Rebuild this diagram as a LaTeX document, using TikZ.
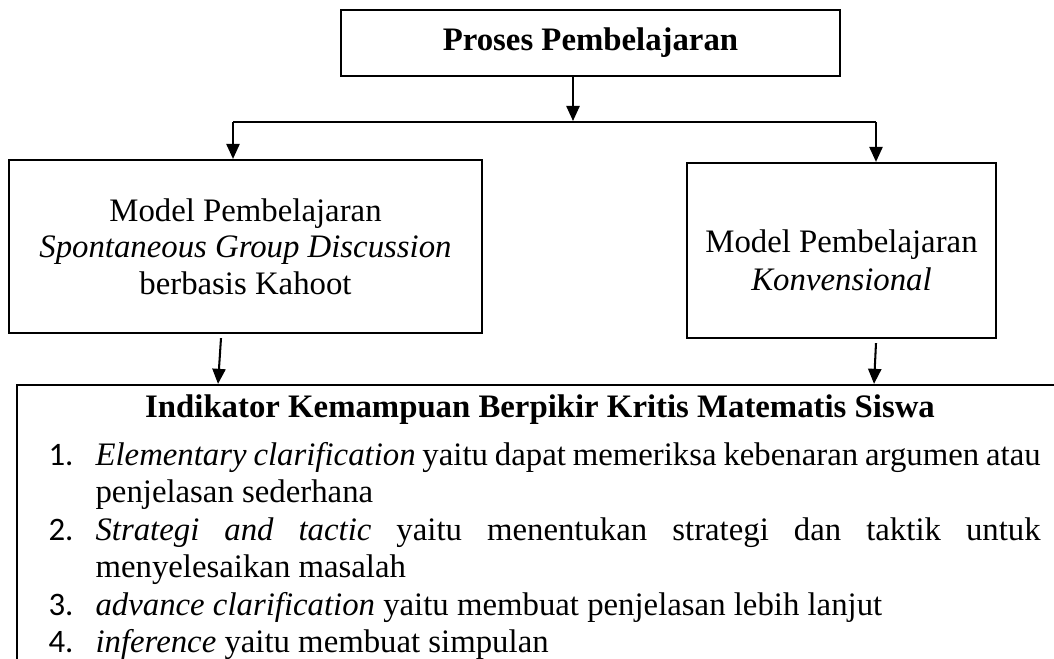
\documentclass[tikz,border=0pt]{standalone}
\usepackage{fontspec}
\setmainfont{Liberation Serif}
\newfontfamily\numfont{Carlito}
\usepackage{tikz}
\usetikzlibrary{shapes, arrows.meta, calc}
\tikzstyle{pbox} = [rectangle, draw, line width=0.8pt, minimum width=182.6pt, minimum height=24.2pt, inner sep=0pt, text centered, font=\fontsize{12pt}{13.7pt}\selectfont\bfseries]
\tikzstyle{mbox} = [rectangle, draw, line width=0.8pt, inner sep=0pt, align=center, font=\fontsize{12pt}{13.4pt}\selectfont]
\tikzstyle{mtext} = [inner sep=0pt, align=center, font=\fontsize{12pt}{13.9pt}\selectfont]
\tikzstyle{ibox} = [rectangle, draw, line width=0.8pt, minimum width=387.2pt, minimum height=108pt]
\tikzstyle{ititle} = [inner sep=0pt, font=\fontsize{12pt}{13.7pt}\selectfont\bfseries]
\tikzstyle{num} = [anchor=base west, inner sep=0pt, font=\fontsize{12pt}{13.7pt}\selectfont\numfont]
\tikzstyle{itemtext} = [anchor=base west, inner sep=0pt, text width=345.9pt, align=justify, font=\fontsize{12pt}{13.7pt}\selectfont]
\tikzstyle{line} = [draw, line width=0.75pt, -{Triangle[width=4.8pt, length=5.5pt]}]
\tikzstyle{branch} = [draw, line width=0.45pt]

\begin{document}
\begin{tikzpicture}[x=0.366pt, y=-0.366pt]
    \useasboundingbox (0,0) rectangle (1054,658);

    \node[pbox](top) at (590.5,43){Proses Pembelajaran};
    \node[mbox, minimum width=173.1pt, minimum height=63.3pt](sgd) at (245.5,246.5){Model Pembelajaran\\\textit{Spontaneous Group Discussion}\\berbasis Kahoot};
    \node[mbox, minimum width=113.1pt, minimum height=64.05pt, label={[mtext, yshift=-3.7pt]center:{Model Pembelajaran\\\textit{Konvensional}}}](konv) at (841.5,250.5){};
    \node[ibox](ind) at (546,532.5){};
    \node[ititle](ititle) at (540,410){Indikator Kemampuan Berpikir Kritis Matematis Siswa};

    % daftar indikator
    \node[num](n1) at (48,465){1.};
    \node[itemtext](i1) at (95,465){\textit{Elementary clarification} yaitu dapat memeriksa kebenaran argumen atau\linebreak penjelasan sederhana};
    \node[num](n2) at (48,540){2.};
    \node[itemtext](i2) at (95,540){\textit{Strategi and tactic} yaitu menentukan strategi dan taktik untuk\linebreak menyelesaikan masalah};
    \node[num](n3) at (48,615){3.};
    \node[itemtext](i3) at (95,615){\textit{advance clarification} yaitu membuat penjelasan lebih lanjut};
    \node[num](n4) at (48,652.5){4.};
    \node[itemtext](i4) at (95,652.5){\textit{inference} yaitu membuat simpulan};

    \coordinate (fork) at (573,121);
    \coordinate (lfork) at (233,122);
    \coordinate (rfork) at (876,122);

    \path[line] (top.south -| fork) -- (fork);
    \path[branch] (lfork) -- (rfork);
    \path[line] (lfork) -- (lfork |- sgd.north);
    \path[line] (rfork) -- (rfork |- konv.north);
    \path[line] ($(sgd.south)+(-24.5,4)$) -- ($(ind.north)+(-328,0)$);
    \path[line] ($(konv.south)+(34.5,4)$) -- ($(ind.north)+(328,0)$);
\end{tikzpicture}
\end{document}
